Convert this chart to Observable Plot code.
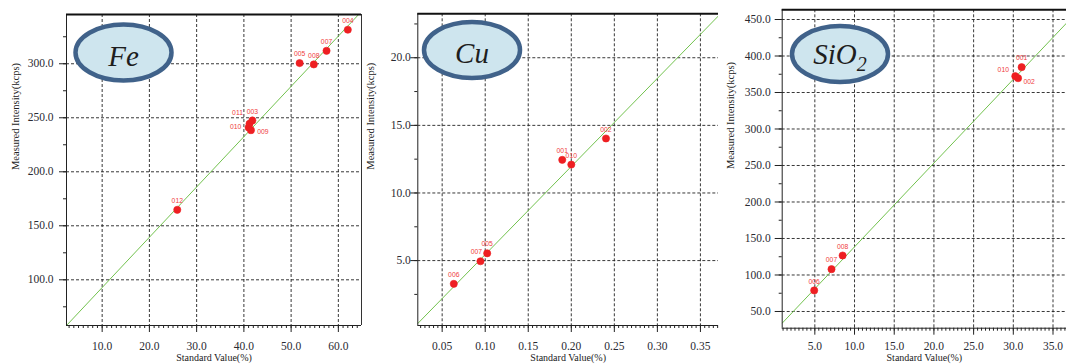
<!DOCTYPE html>
<html><head><meta charset="utf-8">
<script src="https://cdn.jsdelivr.net/npm/d3@7"></script>
<script src="https://cdn.jsdelivr.net/npm/@observablehq/plot@0.6"></script>
<style>
body{margin:0;background:#fff}
#row{display:flex;width:1066px;height:364px;overflow:hidden}
#row svg{display:block;flex:none}
#row svg text{font-family:"Liberation Serif",serif}
#row svg g.ptlabel text{font-family:"Liberation Sans",sans-serif}
</style>
</head><body><div id="row"></div>
<script>
// ---------- data ----------
const feIds = ["012","010","011","009","003","005","008","007","004"];
const feStd = [25.9, 41.0, 41.2, 41.5, 41.8, 51.8, 54.8, 57.5, 62.0];
const feInt = [164.8, 241.0, 244.5, 238.5, 247.5, 300.6, 299.4, 312.0, 331.5];
const feFitX = [2.45, 64.3];
const feFitY = [57.7, 345.6];
const feXTicks = [10, 20, 30, 40, 50, 60];
const feYTicks = [100, 150, 200, 250, 300];

const cuIds = ["006","007","005","001","010","002"];
const cuStd = [0.0635, 0.0945, 0.1023, 0.1895, 0.200, 0.2403];
const cuInt = [3.28, 4.95, 5.54, 12.45, 12.1, 14.03];
const cuFitX = [0.0217, 0.371];
const cuFitY = [0.35, 23.1];
const cuXTicks = [0.05, 0.10, 0.15, 0.20, 0.25, 0.30, 0.35];
const cuYTicks = [5, 10, 15, 20];

const siIds = ["006","007","008","010","002","001"];
const siStd = [4.92, 7.1, 8.5, 30.25, 30.6, 31.05];
const siInt = [78.8, 108.0, 126.7, 372.3, 369.6, 384.7];
const siFitX = [0.89, 36.7];
const siFitY = [34, 445];
const siXTicks = [5, 10, 15, 20, 25, 30, 35];
const siYTicks = [50, 100, 150, 200, 250, 300, 350, 400, 450];

const xTitle = "Standard Value(%)";
const yTitle = "Measured Intensity(kcps)";

// ---------- rendering ----------
const SERIF = "Liberation Serif";
const SANS = "Liberation Sans";
const INK = "#2a2a32";

function panel(cfg) {
  const off = cfg.labelOffsets || {};
  const pts = cfg.ids.map((id, i) => ({id, x: cfg.std[i], y: cfg.int[i]}));
  const fit = cfg.fitX.map((x, i) => ({x, y: cfg.fitY[i]}));
  const [x0, x1] = cfg.xDomain, [y0, y1] = cfg.yDomain;
  const grid = {stroke: "#222", strokeOpacity: 0.9, strokeDasharray: "3,2"};
  const svg = Plot.plot({
    width: cfg.width, height: 364,
    marginLeft: cfg.ml, marginRight: cfg.mr, marginTop: cfg.mt, marginBottom: cfg.mb,
    style: {fontFamily: SERIF, fontSize: "11.5px", color: INK, background: "#fff", overflow: "visible"},
    x: {domain: cfg.xDomain, axis: null},
    y: {domain: cfg.yDomain, axis: null},
    marks: [
      Plot.gridX(cfg.xTicks, grid),
      Plot.gridY(cfg.yTicks, grid),
      Plot.line(fit, {x: "x", y: "y", stroke: "#72c24e", strokeWidth: 1, clip: true}),
      Plot.ruleX([x0], {stroke: "#222"}),
      cfg.rightLine ? Plot.ruleX([x1], {stroke: "#333"}) : null,
      Plot.ruleY([y0], {stroke: "#222"}),
      Plot.ruleY([y1], {stroke: "#111", strokeWidth: 2}),
      Plot.axisX(cfg.xMinor, {anchor: "bottom", tickSize: 3, fill: "none", stroke: "#222", label: null}),
      Plot.axisX(cfg.xTicks, {anchor: "bottom", tickSize: 7, fill: "none", stroke: "#222", label: null}),
      Plot.axisY(cfg.yMinor, {anchor: "left", tickSize: 3, fill: "none", stroke: "#222", label: null}),
      Plot.axisY(cfg.yTicks, {anchor: "left", tickSize: 7, fill: "none", stroke: "#222", label: null}),
      Plot.axisX(cfg.xTicks, {anchor: "bottom", tickSize: 0, tickPadding: cfg.xPad, tickFormat: d3.format(cfg.xFmt), fill: INK, label: null, fontSize: 11.5}),
      Plot.axisY(cfg.yTicks, {anchor: "left", tickSize: 0, tickPadding: cfg.yPad, tickFormat: d3.format(".1f"), fill: INK, label: null, fontSize: 11.5}),
      Plot.text([xTitle], {text: d => d, frameAnchor: "bottom", lineAnchor: "top", dy: cfg.xTitleDy, fontSize: 10, fill: "#222"}),
      Plot.text([yTitle], {text: d => d, frameAnchor: "left", rotate: -90, dx: cfg.yTitleDx, fontSize: 10.5, fill: "#222"}),
      Plot.dot(pts, {x: "x", y: "y", r: 3.6, fill: "#ee1f22", stroke: "#ee1f22", strokeWidth: 0.6}),
      Plot.text(pts, {x: "x", y: "y", text: "id", className: "ptlabel",
        dy: -9, fill: "#f04040", fontSize: 6.8, fontFamily: SANS,
        render: (index, scales, values, dims, ctx, next) => {
          const g = next(index, scales, values, dims, ctx);
          d3.select(g).selectAll("text").each(function(_, j) {
            const o = off[pts[index[j]].id];
            if (o) d3.select(this).attr("transform", (d3.select(this).attr("transform") || "") + ` translate(${o[0]},${o[1]})`);
          });
          return g;
        }})
    ]
  });
  const g = d3.select(svg).append("g");
  g.append("ellipse").attr("cx", cfg.badge.cx).attr("cy", cfg.badge.cy)
    .attr("rx", 48).attr("ry", 28)
    .attr("fill", "#cee5ee").attr("stroke", "#40628a").attr("stroke-width", 4.5);
  const t = g.append("text").attr("x", cfg.badge.cx).attr("y", cfg.badge.cy + cfg.badge.dy)
    .attr("text-anchor", "middle").attr("font-family", SERIF).attr("font-style", "italic")
    .attr("font-size", 29).attr("fill", "#1e1e1e");
  t.append("tspan").text(cfg.badge.text);
  if (cfg.badge.sub) t.append("tspan").attr("font-size", 20).attr("dy", 7).text(cfg.badge.sub);
  return svg;
}

const row = document.getElementById("row");
row.append(panel({
  ids: feIds, std: feStd, int: feInt, fitX: feFitX, fitY: feFitY,
  xTicks: feXTicks, yTicks: feYTicks,
  xMinor: d3.range(3, 65, 1), yMinor: d3.range(75, 345, 25),
  xDomain: [2.45, 64.9], yDomain: [57.7, 345.6], xFmt: ".1f",
  width: 362, ml: 66, mr: 1, mt: 14, mb: 39,
  xPad: 16, yPad: 13, xTitleDy: 28.5, yTitleDx: -51, rightLine: true,
  labelOffsets: {"011": [-12, -2], "010": [-13, 8], "009": [12, 11]},
  badge: {cx: 123.5, cy: 52.5, dy: 13, text: "Fe"}
}));
row.append(panel({
  ids: cuIds, std: cuStd, int: cuInt, fitX: cuFitX, fitY: cuFitY,
  xTicks: cuXTicks, yTicks: cuYTicks,
  xMinor: d3.range(5, 75).map(v => v / 200), yMinor: d3.range(1, 10).map(v => v * 2.5),
  xDomain: [0.0217, 0.371], yDomain: [0.2, 23.25], xFmt: ".2f",
  width: 360, ml: 55.3, mr: 4, mt: 13.3, mb: 39,
  xPad: 16, yPad: 7, xTitleDy: 28.5, yTitleDx: -46.8, rightLine: false,
  labelOffsets: {"007": [-4, 0]},
  badge: {cx: 110, cy: 50, dy: 13, text: "Cu"}
}));
row.append(panel({
  ids: siIds, std: siStd, int: siInt, fitX: siFitX, fitY: siFitY,
  xTicks: siXTicks, yTicks: siYTicks,
  xMinor: d3.range(2, 74).map(v => v / 2), yMinor: d3.range(2, 19).map(v => v * 25),
  xDomain: [0.89, 36.7], yDomain: [27.1, 463.3], xFmt: ".1f",
  width: 344, ml: 59.7, mr: 0, mt: 9.3, mb: 36.3,
  xPad: 14, yPad: 11.5, xTitleDy: 25.8, yTitleDx: -51.7, rightLine: false,
  labelOffsets: {"010": [-12, 3], "002": [11, 13]},
  badge: {cx: 118, cy: 54, dy: 10, text: "SiO", sub: "2"}
}));
</script>
</body></html>
